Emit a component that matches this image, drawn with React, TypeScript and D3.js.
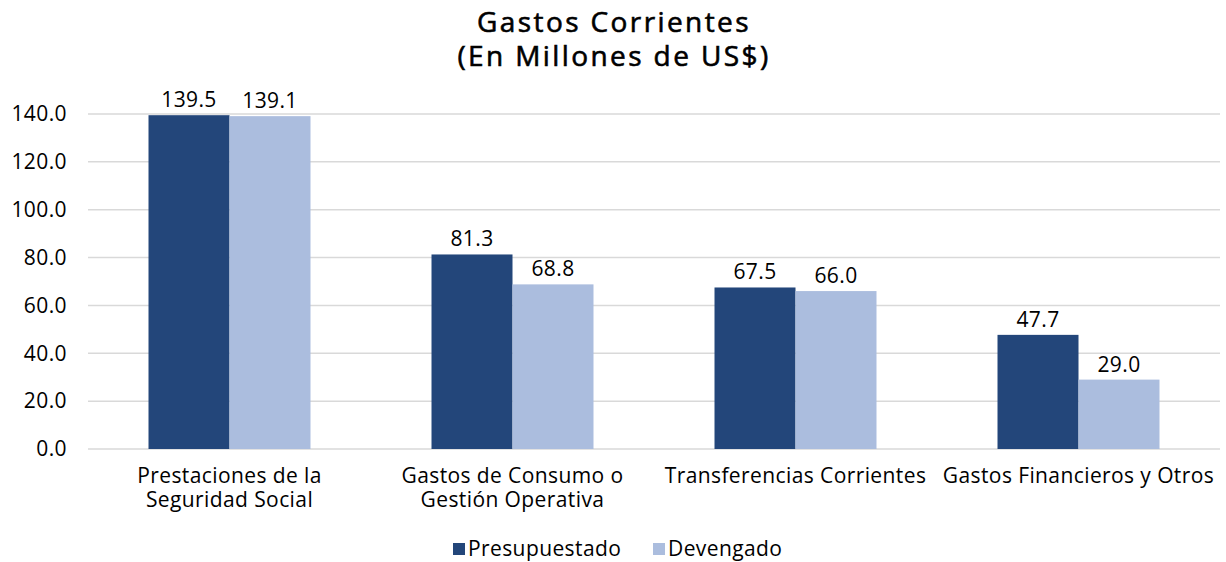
import React, { useRef, useEffect } from "react";
import * as d3 from "d3";

const categories = [
  ["Prestaciones de la", "Seguridad Social"],
  ["Gastos de Consumo o", "Gestión Operativa"],
  ["Transferencias Corrientes"],
  ["Gastos Financieros y Otros"],
];
const seriesNames = ["Presupuestado", "Devengado"];
const presupuestado = [139.5, 81.3, 67.5, 47.7];
const devengado = [139.1, 68.8, 66.0, 29.0];
const yTicks = [0, 20, 40, 60, 80, 100, 120, 140];
const titleLines = ["Gastos Corrientes", "(En Millones de US$)"];
const colors = ["#23467A", "#ABBDDE"];

const W = 1226;
const H = 562;
const FONT = "'Open Sans', Lato, sans-serif";
const FS = 21;

const App = () => {
  const ref = useRef<SVGSVGElement>(null);

  useEffect(() => {
    const svg = d3.select(ref.current);
    svg.selectAll("*").remove();

    const margin = { top: 114, right: 6, bottom: 113, left: 88 };
    const width = W - margin.left - margin.right;
    const height = H - margin.top - margin.bottom;

    const keys = categories.map((c) => c.join(" "));
    const x0 = d3.scaleBand().domain(keys).range([0, width]).padding(0);
    const x1 = d3
      .scaleBand()
      .domain(seriesNames)
      .range([0, x0.bandwidth()])
      .paddingInner(0)
      .paddingOuter(0.747);
    const y = d3.scaleLinear().domain([0, 140]).range([height, 0]);

    // title (medium weight faked with a thin stroke)
    const title = svg
      .append("text")
      .attr("y", 32)
      .attr("text-anchor", "middle")
      .attr("font-family", FONT)
      .attr("font-size", 28)
      .attr("letter-spacing", 2.4)
      .attr("stroke", "#000")
      .attr("stroke-width", 0.6);
    titleLines.forEach((t, i) => {
      title
        .append("tspan")
        .attr("x", W / 2 + 1)
        .attr("dy", i === 0 ? 0 : 34)
        .text(t);
    });

    const g = svg
      .append("g")
      .attr("transform", `translate(${margin.left},${margin.top})`);

    // grid
    g.selectAll(".grid")
      .data(yTicks)
      .enter()
      .append("line")
      .attr("x1", 0)
      .attr("x2", width)
      .attr("y1", (d) => y(d))
      .attr("y2", (d) => y(d))
      .attr("stroke", "#D9D9D9")
      .attr("stroke-width", 1.5);

    g.selectAll(".ytick")
      .data(yTicks)
      .enter()
      .append("text")
      .attr("x", -21)
      .attr("y", (d) => y(d))
      .attr("dy", "0.35em")
      .attr("text-anchor", "end")
      .attr("font-family", FONT)
      .attr("font-size", FS)
      .attr("letter-spacing", 0.4)
      .attr("fill", "#000")
      .text((d) => d.toFixed(1));

    const data = [presupuestado, devengado];
    data.forEach((vals, si) => {
      const s = seriesNames[si];
      vals.forEach((v, ci) => {
        const bx = (x0(keys[ci]) ?? 0) + (x1(s) ?? 0);
        g.append("rect")
          .attr("x", bx)
          .attr("y", y(v))
          .attr("width", x1.bandwidth())
          .attr("height", height - y(v))
          .attr("fill", colors[si]);
        g.append("text")
          .attr("x", bx + x1.bandwidth() / 2)
          .attr("y", y(v) - 8)
          .attr("text-anchor", "middle")
          .attr("font-family", FONT)
          .attr("font-size", FS)
          .attr("letter-spacing", 0.4)
          .attr("fill", "#000")
          .text(v.toFixed(1));
      });
    });

    // category labels
    categories.forEach((lines, ci) => {
      const cx = (x0(keys[ci]) ?? 0) + x0.bandwidth() / 2;
      const t = g
        .append("text")
        .attr("y", height + 34)
        .attr("text-anchor", "middle")
        .attr("font-family", FONT)
        .attr("font-size", FS)
        .attr("letter-spacing", 0.4)
        .attr("fill", "#000");
      lines.forEach((line, li) => {
        t.append("tspan")
          .attr("x", cx)
          .attr("dy", li === 0 ? 0 : 24)
          .text(line);
      });
    });

    // legend
    const legendX = [453, 653];
    seriesNames.forEach((s, i) => {
      svg
        .append("rect")
        .attr("x", legendX[i])
        .attr("y", 543)
        .attr("width", 12)
        .attr("height", 12)
        .attr("fill", colors[i]);
      svg
        .append("text")
        .attr("x", legendX[i] + 15)
        .attr("y", 556)
        .attr("font-family", FONT)
        .attr("font-size", FS)
        .attr("letter-spacing", 0.4)
        .attr("fill", "#000")
        .text(s);
    });
  }, []);

  return <svg ref={ref} width={W} height={H} style={{ display: "block", position: "absolute", left: 0, top: 0 }}></svg>;
};

export default App;
